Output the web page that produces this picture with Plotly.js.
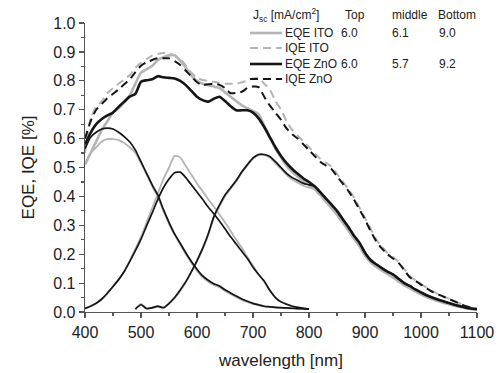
<!DOCTYPE html>
<html><head><meta charset="utf-8">
<script src="https://cdn.plot.ly/plotly-3.0.1.min.js"></script>
<style>html,body{margin:0;padding:0;background:#fff}#chart{width:503px;height:373px}</style>
</head><body><div id="chart"></div>
<script>
// wavelength grids (nm)
const wlMain = [];
for (let w = 400; w <= 1100; w += 10) wlMain.push(w);
const wlTopMid = [];
for (let w = 400; w <= 800; w += 10) wlTopMid.push(w);
const wlBottom = [];
for (let w = 490; w <= 1100; w += 10) wlBottom.push(w);

// total curves (400..1100 step 10)
const eqeITO = [0.51,0.55,0.59,0.63,0.66,0.69,0.705,0.725,0.75,0.79,0.828,0.84,0.852,0.872,0.882,0.888,0.888,0.87,0.845,0.818,0.80,0.79,0.785,0.78,0.775,0.76,0.745,0.73,0.715,0.705,0.695,0.685,0.645,0.605,0.565,0.535,0.505,0.485,0.468,0.452,0.44,0.425,0.405,0.383,0.36,0.337,0.31,0.283,0.255,0.228,0.196,0.172,0.157,0.144,0.132,0.12,0.106,0.093,0.082,0.071,0.061,0.052,0.045,0.038,0.032,0.027,0.022,0.017,0.013,0.01,0.008];
const iqeITO = [0.55,0.67,0.71,0.73,0.757,0.775,0.79,0.805,0.82,0.845,0.862,0.875,0.887,0.893,0.896,0.895,0.888,0.875,0.853,0.828,0.81,0.803,0.80,0.797,0.793,0.79,0.79,0.79,0.795,0.80,0.808,0.81,0.79,0.77,0.73,0.70,0.66,0.63,0.61,0.59,0.57,0.55,0.53,0.517,0.503,0.478,0.452,0.427,0.397,0.362,0.326,0.288,0.252,0.226,0.205,0.19,0.173,0.148,0.124,0.11,0.097,0.084,0.072,0.063,0.054,0.046,0.038,0.029,0.021,0.015,0.01];
const eqeZnO = [0.58,0.62,0.65,0.668,0.68,0.69,0.71,0.728,0.745,0.755,0.797,0.802,0.805,0.816,0.812,0.81,0.808,0.80,0.785,0.765,0.745,0.733,0.728,0.738,0.745,0.73,0.712,0.698,0.698,0.698,0.69,0.67,0.64,0.605,0.57,0.54,0.515,0.495,0.478,0.462,0.45,0.435,0.415,0.393,0.372,0.35,0.322,0.295,0.265,0.24,0.205,0.18,0.165,0.152,0.14,0.13,0.115,0.10,0.09,0.078,0.068,0.058,0.05,0.043,0.037,0.031,0.025,0.02,0.015,0.012,0.01];
const iqeZnO = [0.60,0.66,0.70,0.72,0.74,0.755,0.77,0.788,0.805,0.83,0.852,0.864,0.872,0.878,0.878,0.878,0.868,0.855,0.835,0.815,0.795,0.785,0.788,0.79,0.786,0.775,0.757,0.758,0.762,0.775,0.78,0.778,0.745,0.715,0.69,0.665,0.635,0.615,0.60,0.58,0.56,0.54,0.52,0.507,0.495,0.47,0.445,0.42,0.39,0.355,0.32,0.28,0.245,0.22,0.20,0.185,0.17,0.145,0.12,0.108,0.095,0.082,0.07,0.062,0.053,0.045,0.037,0.028,0.02,0.014,0.01];

// sub-cell EQE, top & middle (400..800 step 10)
const topZnO = [0.565,0.605,0.622,0.633,0.636,0.633,0.622,0.607,0.588,0.56,0.52,0.48,0.44,0.405,0.355,0.31,0.27,0.238,0.205,0.175,0.148,0.125,0.11,0.098,0.09,0.077,0.066,0.055,0.045,0.037,0.03,0.025,0.02,0.018,0.016,0.015,0.014,0.013,0.012,0.011,0.01];
const topITO = [0.51,0.55,0.57,0.59,0.598,0.598,0.595,0.585,0.57,0.55,0.515,0.475,0.435,0.398,0.35,0.305,0.266,0.234,0.20,0.17,0.143,0.12,0.105,0.094,0.086,0.073,0.062,0.052,0.042,0.034,0.028,0.023,0.019,0.017,0.015,0.014,0.013,0.012,0.011,0.01,0.01];
const midZnO = [0.012,0.02,0.03,0.045,0.065,0.088,0.112,0.14,0.175,0.212,0.252,0.298,0.343,0.39,0.43,0.46,0.482,0.484,0.465,0.44,0.415,0.39,0.363,0.34,0.315,0.288,0.26,0.235,0.21,0.185,0.155,0.13,0.107,0.075,0.05,0.035,0.027,0.02,0.016,0.013,0.01];
const midITO = [0.012,0.02,0.03,0.045,0.065,0.088,0.112,0.14,0.178,0.218,0.26,0.31,0.36,0.41,0.46,0.50,0.54,0.535,0.505,0.475,0.445,0.418,0.39,0.365,0.338,0.31,0.28,0.25,0.222,0.19,0.16,0.13,0.105,0.075,0.05,0.035,0.027,0.02,0.016,0.013,0.01];
// sub-cell EQE, bottom (490..1100 step 10)
const botZnO = [0.01,0.025,0.012,0.015,0.02,0.015,0.03,0.05,0.076,0.105,0.14,0.178,0.22,0.27,0.33,0.37,0.405,0.43,0.455,0.485,0.51,0.533,0.545,0.545,0.538,0.52,0.50,0.48,0.465,0.455,0.445,0.44,0.435,0.415,0.393,0.372,0.35,0.322,0.295,0.265,0.24,0.205,0.18,0.165,0.152,0.14,0.13,0.115,0.10,0.09,0.078,0.068,0.058,0.05,0.043,0.037,0.031,0.025,0.02,0.015,0.012,0.01];
const botITO = [0.01,0.028,0.012,0.014,0.018,0.014,0.028,0.048,0.074,0.103,0.138,0.175,0.217,0.266,0.325,0.365,0.40,0.427,0.452,0.482,0.507,0.53,0.542,0.543,0.535,0.515,0.495,0.475,0.458,0.447,0.437,0.43,0.425,0.405,0.383,0.36,0.337,0.31,0.283,0.255,0.228,0.196,0.172,0.157,0.144,0.132,0.12,0.106,0.093,0.082,0.071,0.061,0.052,0.045,0.038,0.032,0.027,0.022,0.017,0.013,0.01,0.008];

// legend table
const legendNames = ["EQE ITO", "IQE ITO", "EQE ZnO", "IQE ZnO"];
const jscHeader = ["J<sub>sc</sub> [mA/cm<sup>2</sup>]", "Top", "middle", "Bottom"];
const jscTop = ["6.0", "", "6.0", ""];
const jscMiddle = ["6.1", "", "5.7", ""];
const jscBottom = ["9.0", "", "9.2", ""];

const GRAY = "#b4b4b4", BLACK = "#151515";
const DASH = "8px,5px";
const styles = [
  {color: GRAY, width: 2.6, dash: "solid"},
  {color: GRAY, width: 2, dash: DASH},
  {color: BLACK, width: 2.6, dash: "solid"},
  {color: BLACK, width: 2, dash: DASH}
];

function tr(x, y, line, name) {
  return {x: x, y: y, type: "scatter", mode: "lines", name: name || "",
          line: Object.assign({shape: "spline", smoothing: 0.6}, line), showlegend: false, hoverinfo: "skip"};
}
const thinG = {color: GRAY, width: 1.8, dash: "solid"};
const thinB = {color: BLACK, width: 1.7, dash: "solid"};
const data = [
  tr(wlTopMid, topITO, thinG, "Top ITO"),
  tr(wlTopMid, midITO, thinG, "Middle ITO"),
  tr(wlBottom, botITO, thinG, "Bottom ITO"),
  tr(wlMain, eqeITO, styles[0], legendNames[0]),
  tr(wlMain, iqeITO, styles[1], legendNames[1]),
  tr(wlTopMid, topZnO, thinB, "Top ZnO"),
  tr(wlTopMid, midZnO, thinB, "Middle ZnO"),
  tr(wlBottom, botZnO, thinB, "Bottom ZnO"),
  tr(wlMain, eqeZnO, styles[2], legendNames[2]),
  tr(wlMain, iqeZnO, styles[3], legendNames[3])
];

const FONT = "Liberation Sans, Arial, sans-serif";
const TXT = "#222";
const shapes = [], annotations = [];
// legend rows (paper coords)
const W = 503, H = 373, ML = 85, MR = 26, MT = 23, MB = 61;
const pw = W - ML - MR, ph = H - MT - MB;
const px = v => (v - ML) / pw;
const py = v => 1 - (v - MT) / ph;
const rowY = [33, 48, 64, 79];
legendNames.forEach((n, i) => {
  const s = styles[i];
  shapes.push({type: "line", xref: "paper", yref: "paper", x0: px(250), x1: px(282), y0: py(rowY[i]), y1: py(rowY[i]),
    line: {color: s.color, width: s.width, dash: s.dash}});
  annotations.push({xref: "paper", yref: "paper", x: px(283), y: py(rowY[i]), xanchor: "left", yanchor: "middle",
    text: n, showarrow: false, font: {family: FONT, size: 12, color: TXT}});
  [[jscTop, 339], [jscMiddle, 390], [jscBottom, 437]].forEach(([arr, xp]) => {
    if (arr[i]) annotations.push({xref: "paper", yref: "paper", x: px(xp), y: py(rowY[i]), xanchor: "left", yanchor: "middle",
      text: arr[i], showarrow: false, font: {family: FONT, size: 12, color: TXT}});
  });
});
[[jscHeader[0], 251], [jscHeader[1], 343], [jscHeader[2], 390], [jscHeader[3], 436]].forEach(([t, xp]) => {
  annotations.push({xref: "paper", yref: "paper", x: px(xp), y: py(15), xanchor: "left", yanchor: "middle",
    text: t, showarrow: false, font: {family: FONT, size: 12, color: TXT}});
});

const axCommon = {showgrid: false, zeroline: false, showline: true, linecolor: "#555", linewidth: 1.3,
  tickcolor: "#555", tickwidth: 1.2, tickfont: {family: FONT, size: 16, color: TXT}};
const layout = {
  width: W, height: H,
  margin: {l: ML, r: MR, t: MT, b: MB, pad: 0},
  paper_bgcolor: "#fff", plot_bgcolor: "#fff",
  showlegend: false,
  font: {family: FONT},
  xaxis: Object.assign({}, axCommon, {range: [400, 1100], dtick: 100, tick0: 400, ticks: "outside", ticklen: 5,
    minor: {dtick: 50, ticks: "outside", ticklen: 3, tickcolor: "#555"},
    title: {text: "wavelength [nm]", font: {family: FONT, size: 17, color: TXT}, standoff: 14}}),
  yaxis: Object.assign({}, axCommon, {range: [0, 1.0], dtick: 0.1, tick0: 0, tickformat: ".1f", ticks: "outside", ticklen: 5,
    minor: {dtick: 0.05, ticks: "outside", ticklen: 3, tickcolor: "#555"},
    title: {text: "EQE, IQE [%]", font: {family: FONT, size: 17, color: TXT}, standoff: 14}}),
  xaxis2: Object.assign({}, axCommon, {overlaying: "x", side: "top", anchor: "y", range: [400, 1100], dtick: 100, tick0: 400,
    ticks: "inside", ticklen: 4, showticklabels: false, minor: {dtick: 50, ticks: "inside", ticklen: 3, tickcolor: "#555"}}),
  yaxis2: Object.assign({}, axCommon, {overlaying: "y", side: "right", anchor: "x", range: [0, 1.0], dtick: 0.1, tick0: 0,
    ticks: "inside", ticklen: 4, showticklabels: false, minor: {dtick: 0.05, ticks: "inside", ticklen: 3, tickcolor: "#555"}}),
  shapes: shapes,
  annotations: annotations
};
Plotly.newPlot("chart", data, layout, {staticPlot: true, displayModeBar: false});
</script></body></html>
